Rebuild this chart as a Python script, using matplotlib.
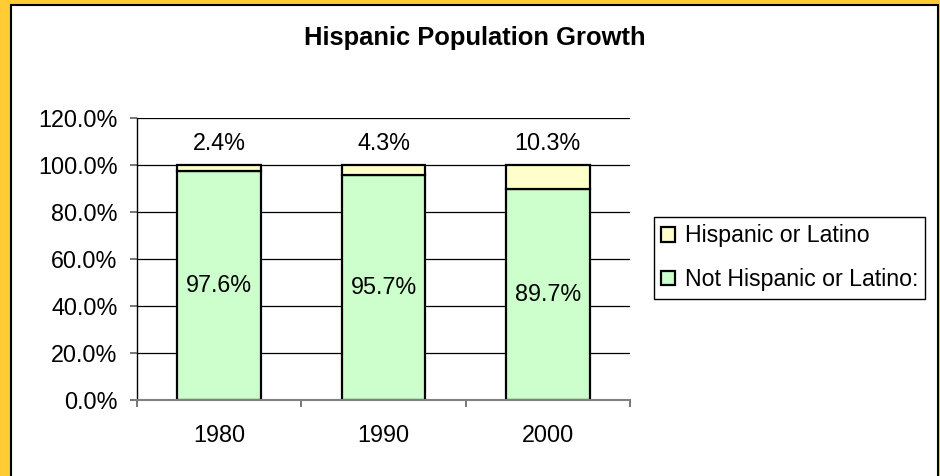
import matplotlib
matplotlib.use("Agg")
import matplotlib.pyplot as plt
from matplotlib.patches import Rectangle
from matplotlib.ticker import FuncFormatter

years = ["1980", "1990", "2000"]
hispanic = [2.4, 4.3, 10.3]
not_hispanic = [97.6, 95.7, 89.7]
series_names = ["Hispanic or Latino", "Not Hispanic or Latino:"]
title = "Hispanic Population Growth"

plt.rcParams['font.family'] = ['Liberation Sans', 'DejaVu Sans']

W, H = 940, 476
fig = plt.figure(figsize=(W / 100, H / 100), dpi=100)
fig.patch.set_facecolor('#FFCC33')
bg = Rectangle((10.5 / W, -0.02), (938 - 10.5) / W, (H - 5.5) / H + 0.02,
               transform=fig.transFigure, facecolor='white',
               edgecolor='black', linewidth=1.5, zorder=-10)
fig.patches.append(bg)

ax = fig.add_axes([137 / W, 1 - 400 / H, (630 - 137) / W, (400 - 118) / H])
ax.set_facecolor('none')

x = list(range(len(years)))
green = '#CCFFCC'
yellow = '#FFFFCC'
ax.bar(x, not_hispanic, width=0.51, color=green, edgecolor='black', linewidth=1.6,
       label=series_names[1], zorder=3)
ax.bar(x, hispanic, width=0.51, bottom=not_hispanic, color=yellow, edgecolor='black',
       linewidth=1.6, label=series_names[0], zorder=3)

for xi, nh, h in zip(x, not_hispanic, hispanic):
    ax.text(xi, nh / 2, f"{nh:.1f}%", ha='center', va='center', fontsize=16.8, zorder=4)
    ax.text(xi, 109, f"{h:.1f}%", ha='center', va='center', fontsize=16.8, zorder=4)

ax.set_xlim(-0.5, 2.5)
ax.set_ylim(0, 120)
ax.set_yticks([0, 20, 40, 60, 80, 100, 120])
ax.yaxis.set_major_formatter(FuncFormatter(lambda v, p: f"{v:.1f}%"))
ax.grid(axis='y', color='black', linewidth=0.9, zorder=1)
ax.set_axisbelow(True)

ax.set_xticks([-0.5, 0.5, 1.5, 2.5])
ax.set_xticklabels([])
ax.set_xticks(x, minor=True)
ax.set_xticklabels(years, minor=True)
ax.tick_params(axis='x', which='major', length=5, color='#606060', width=1.2, direction='out')
ax.tick_params(axis='x', which='minor', length=0, pad=17, labelsize=16.8)
ax.tick_params(axis='y', length=5, color='#606060', width=1.2, direction='out', pad=9, labelsize=16.8)

for s in ['top', 'right']:
    ax.spines[s].set_visible(False)
ax.spines['left'].set_color('black')
ax.spines['left'].set_linewidth(1.0)
ax.spines['bottom'].set_color('#808080')
ax.spines['bottom'].set_linewidth(1.5)
ax.spines['bottom'].set_zorder(5)

fig.text(475 / W, 1 - 38 / H, title, ha='center', va='center', fontsize=18.4,
         fontweight='bold')

handles, labels = ax.get_legend_handles_labels()
leg = fig.legend(handles[::-1], labels[::-1], loc='upper left',
                 bbox_to_anchor=(654 / W, 1 - 217 / H), fontsize=16.7,
                 frameon=True, fancybox=False, edgecolor='black', framealpha=1,
                 handlelength=0.6, handleheight=0.6, handletextpad=0.4,
                 borderpad=0.32, labelspacing=0.9, borderaxespad=0)
leg.get_frame().set_linewidth(1.0)

fig.savefig('out.png', dpi=100, facecolor=fig.get_facecolor())
